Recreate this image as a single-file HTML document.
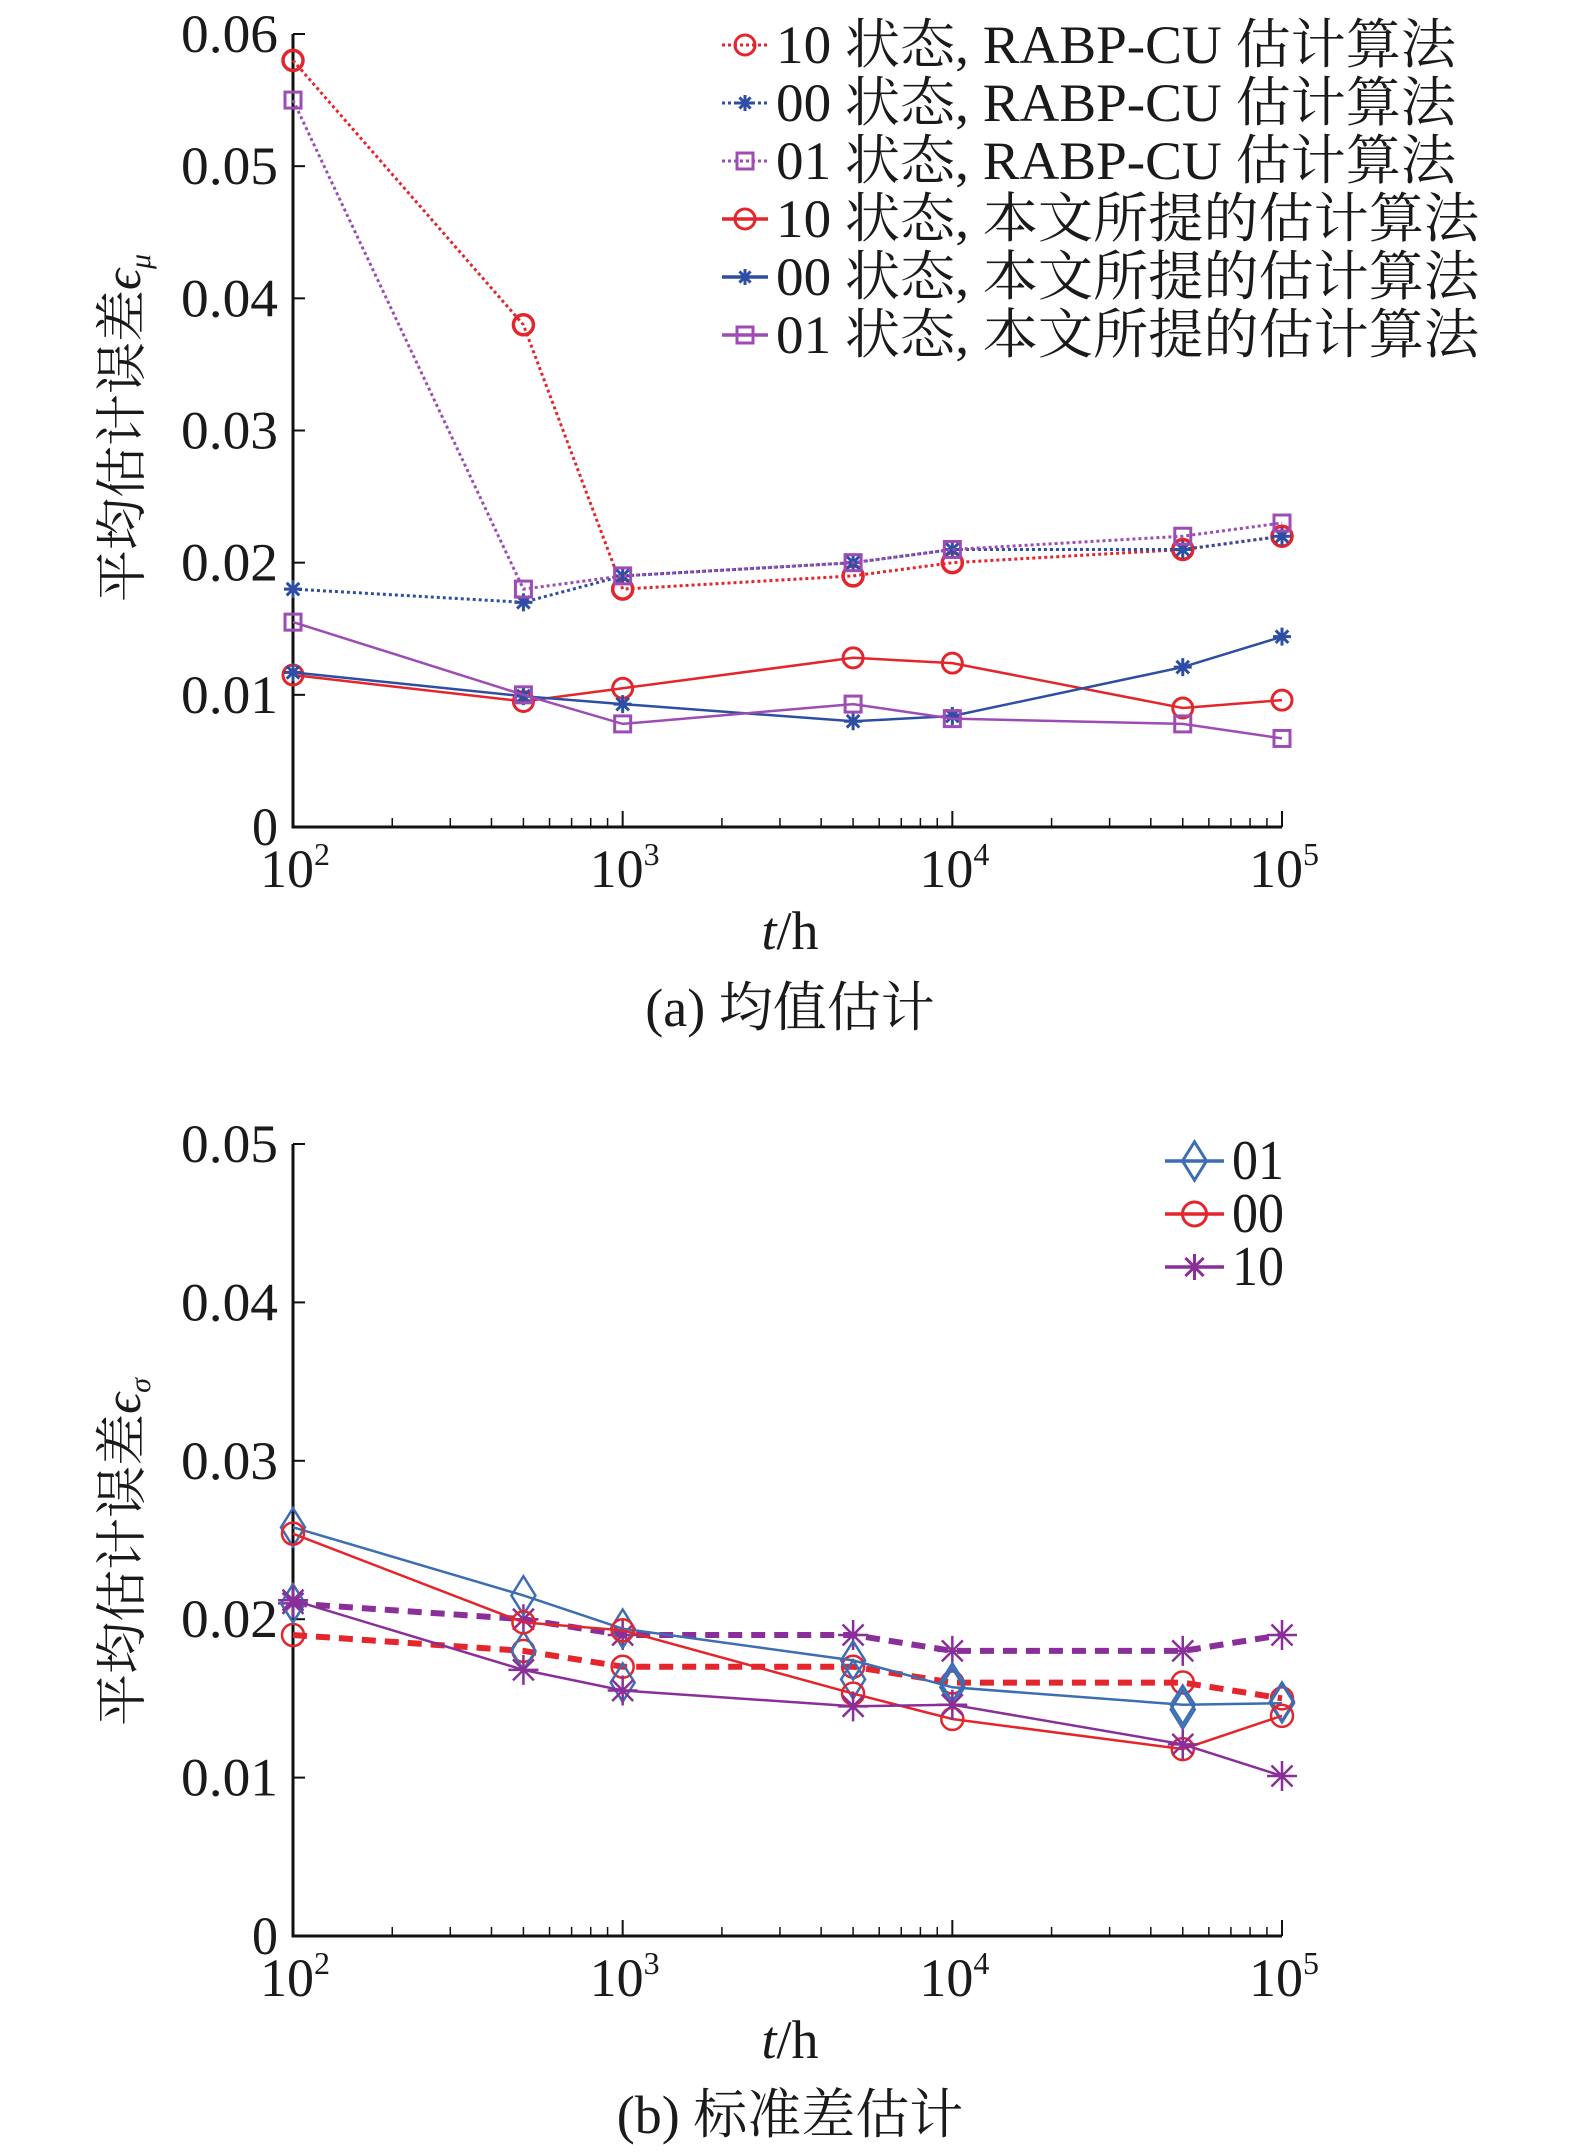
<!DOCTYPE html>
<html><head><meta charset="utf-8"><style>
html,body{margin:0;padding:0;background:#fff;}
svg{display:block;}
text{font-family:"Liberation Serif","Noto Serif CJK SC","Noto Sans CJK SC",serif;fill:#1a1a1a;}
</style></head><body>
<svg id="fig" width="1575" height="2156" viewBox="0 0 1575 2156" xmlns="http://www.w3.org/2000/svg"></svg>
<script>
// ---- data ----
const xValues = [100, 500, 1000, 5000, 10000, 50000, 100000];
const xTickLabels = ["2", "3", "4", "5"];
const yTicksA = [0, 0.01, 0.02, 0.03, 0.04, 0.05, 0.06];
const yTickLabelsA = ["0", "0.01", "0.02", "0.03", "0.04", "0.05", "0.06"];
const yTicksB = [0, 0.01, 0.02, 0.03, 0.04, 0.05];
const yTickLabelsB = ["0", "0.01", "0.02", "0.03", "0.04", "0.05"];

const aRabp10 = [0.058, 0.038, 0.018, 0.019, 0.020, 0.021, 0.022];
const aRabp00 = [0.018, 0.017, 0.019, 0.020, 0.021, 0.021, 0.022];
const aRabp01 = [0.055, 0.018, 0.019, 0.020, 0.021, 0.022, 0.023];
const aOurs10 = [0.0115, 0.0095, 0.0105, 0.0128, 0.0124, 0.0090, 0.0096];
const aOurs00 = [0.0117, 0.0099, 0.0093, 0.0080, 0.0084, 0.0121, 0.0144];
const aOurs01 = [0.0155, 0.0100, 0.0078, 0.0093, 0.0082, 0.0078, 0.0067];

const b01 = [0.0258, 0.0215, 0.0194, 0.0174, 0.0157, 0.0146, 0.0147];
const b00 = [0.0254, 0.0198, 0.0193, 0.0153, 0.0137, 0.0118, 0.0139];
const b10 = [0.0212, 0.0168, 0.0155, 0.0145, 0.0146, 0.0121, 0.0101];
const b01b = [0.0210, 0.0180, 0.0160, 0.0162, 0.0160, 0.0143, 0.0148];
const b00dash = [0.019, 0.018, 0.017, 0.017, 0.016, 0.016, 0.015];
const b10dash = [0.021, 0.020, 0.019, 0.019, 0.018, 0.018, 0.019];

const legendA = ["10 状态, RABP-CU 估计算法","00 状态, RABP-CU 估计算法","01 状态, RABP-CU 估计算法","10 状态, 本文所提的估计算法","00 状态, 本文所提的估计算法","01 状态, 本文所提的估计算法"];
const legendB = ["01","00","10"];

// ---- helpers ----
const NS = "http://www.w3.org/2000/svg";
const svg = document.getElementById("fig");
function el(tag, attrs, parent){const e=document.createElementNS(NS,tag);for(const k in attrs)e.setAttribute(k,attrs[k]);(parent||svg).appendChild(e);return e;}

const RED="#e4262c", BLUE="#2e4ea3", PURP="#9e4cb5", BLUE2="#3d6db3", PURP2="#8a2f99";

function makeChart(cfg){
  const g = el("g",{});
  
  
  const X0=293, X1=1282;
  const xs = v => X0 + (Math.log10(v)-2)/3*(X1-X0);
  const ys = v => cfg.y0 - v/cfg.ymax*(cfg.y0-cfg.ytop);
  cfg.xs=xs; cfg.ys=ys; cfg.g=g;
  const ax = el("path",{d:`M${X0},${ys(cfg.ymax)} L${X0},${cfg.y0} L${X1},${cfg.y0}`,fill:"none",stroke:"#111","stroke-width":3},g);
   
  cfg.yticks.forEach((t,i)=>{
    el("line",{x1:X0,x2:X0+12,y1:ys(t),y2:ys(t),stroke:"#111","stroke-width":2},g);
    const tx = el("text",{x:278,y:ys(t)+18,"text-anchor":"end","font-size":54,textLength:cfg.ylabels[i].length>1?97:26,lengthAdjust:"spacingAndGlyphs"},g);
    tx.textContent = cfg.ylabels[i];
     
  });
  for(let d=2; d<=5; d++){
    const x=xs(Math.pow(10,d));
    el("line",{x1:x,x2:x,y1:cfg.y0,y2:cfg.y0-16,stroke:"#111","stroke-width":2},g);
    const tx=el("text",{x:x-33,y:cfg.y0+60,"font-size":54},g);
    tx.textContent="10";
    const sp=el("tspan",{dy:-22,"font-size":32},tx); sp.textContent=xTickLabels[d-2];
     
    if(d<5) for(let m=2;m<=9;m++){
      const xm=xs(m*Math.pow(10,d));
      el("line",{x1:xm,x2:xm,y1:cfg.y0,y2:cfg.y0-9,stroke:"#111","stroke-width":1.5},g);
    }
  }
  const xt=el("text",{x:790,y:cfg.y0+122,"text-anchor":"middle","font-size":54},g);
  const it=el("tspan",{"font-style":"italic"},xt); it.textContent="t"; const ht=el("tspan",{},xt); ht.textContent="/h";
   
  const yt=el("text",{transform:`translate(140,${cfg.ytitleY}) rotate(-90)`,"text-anchor":"middle","font-size":52},g);
  const yt1=el("tspan",{},yt); yt1.textContent="平均估计误差";
  const yt2=el("tspan",{"font-style":"italic"},yt); yt2.textContent="ϵ";
  const yt3=el("tspan",{"font-style":"italic","font-size":30,dy:10},yt); yt3.textContent=cfg.sub;
   
  const cap=el("text",{x:790,y:cfg.capY,"text-anchor":"middle","font-size":54},g);
  cap.textContent=cfg.caption;
   
  return cfg;
}

function marker(g,type,x,y,color,size,sw){
  const s=size;
  if(type==="circle") el("circle",{cx:x,cy:y,r:s,fill:"none",stroke:color,"stroke-width":sw},g);
  else if(type==="square") el("rect",{x:x-s,y:y-s,width:2*s,height:2*s,fill:"none",stroke:color,"stroke-width":sw},g);
  else if(type==="diamond") el("path",{d:`M${x},${y-s*1.6} L${x+s},${y} L${x},${y+s*1.6} L${x-s},${y} Z`,fill:"none",stroke:color,"stroke-width":sw},g);
  else if(type==="star"){
    let d=`M${x-s},${y} L${x+s},${y} M${x},${y-s} L${x},${y+s} M${x-s*0.7},${y-s*0.7} L${x+s*0.7},${y+s*0.7} M${x-s*0.7},${y+s*0.7} L${x+s*0.7},${y-s*0.7}`;
    el("path",{d,stroke:color,"stroke-width":sw,fill:"none"},g);
  }
}

function series(cfg,name,vals,color,dash,sw,mtype,msize,msw,noLine){
  const g=el("g",{},cfg.g);
  
  
  if(!noLine){
    const d=vals.map((v,i)=>(i?"L":"M")+cfg.xs(xValues[i]).toFixed(1)+","+cfg.ys(v).toFixed(1)).join(" ");
    const p=el("path",{d,fill:"none",stroke:color,"stroke-width":sw},g);
    if(dash) p.setAttribute("stroke-dasharray",dash);
  }
  vals.forEach((v,i)=>marker(g,mtype,cfg.xs(xValues[i]),cfg.ys(v),color,msize,msw));
}

function legendEntry(parent,name,x1,x2,y,color,dash,mtype,msize,text,tl,fs){
  const g=el("g",{},parent);
  
  
  const l=el("line",{x1,x2,y1:y,y2:y,stroke:color,"stroke-width":dash?3:3.5},g);
  if(dash) l.setAttribute("stroke-dasharray",dash);
  marker(g,mtype,(x1+x2)/2,y,color,msize,3);
  const t=el("text",{x:x2+8,y:y+18,"font-size":fs,textLength:tl,lengthAdjust:"spacingAndGlyphs"},g);
  t.textContent=text;
}

// ---- chart A ----
const A = makeChart({name:"chart-a-mean",y0:827,ytop:34,ymax:0.06,yticks:yTicksA,ylabels:yTickLabelsA,sub:"μ",ytitleY:428,capY:1026,caption:"(a) 均值估计"});
series(A,"series-rabp-10",aRabp10,RED,"3,3",3,"circle",10,3.5);
series(A,"series-rabp-00",aRabp00,BLUE,"3,3",3,"star",9,3);
series(A,"series-rabp-01",aRabp01,PURP,"3,3",3,"square",8,3);
series(A,"series-ours-10",aOurs10,RED,null,2.5,"circle",10,3);
series(A,"series-ours-00",aOurs00,BLUE,null,2.5,"star",9,3);
series(A,"series-ours-01",aOurs01,PURP,null,2.5,"square",8,3);
const legA=el("g",{});  
const legAy=[45,103,161,219,277,335];
const legAc=[RED,BLUE,PURP,RED,BLUE,PURP], legAm=["circle","star","square","circle","star","square"];
legendA.forEach((t,i)=>legendEntry(legA,"legend-entry",722,768,legAy[i],legAc[i],i<3?"3,3":null,legAm[i],i===0||i===3?10:8,t,i<3?680:703,54));

// ---- chart B ----
const B = makeChart({name:"chart-b-std",y0:1936,ytop:1144,ymax:0.05,yticks:yTicksB,ylabels:yTickLabelsB,sub:"σ",ytitleY:1552,capY:2133,caption:"(b) 标准差估计"});
series(B,"series-10-dashed",b10dash,PURP2,"14,9",6,"star",15,2.5);
series(B,"series-00-dashed",b00dash,RED,"14,9",6,"circle",11,2.5);
series(B,"series-01-markers",b01b,BLUE2,null,2,"diamond",12,2.5,true);
series(B,"series-01",b01,BLUE2,null,2.5,"diamond",12,2.5);
series(B,"series-00",b00,RED,null,2.5,"circle",11,2.5);
series(B,"series-10",b10,PURP2,null,2.5,"star",15,2.5);
const legB=el("g",{});  
const legBy=[1161,1214,1267], legBc=[BLUE2,RED,PURP2], legBm=["diamond","circle","star"];
legendB.forEach((t,i)=>legendEntry(legB,"legend-entry",1165,1224,legBy[i],legBc[i],null,legBm[i],i===2?13:12,t,52,56));
</script>
</body></html>
